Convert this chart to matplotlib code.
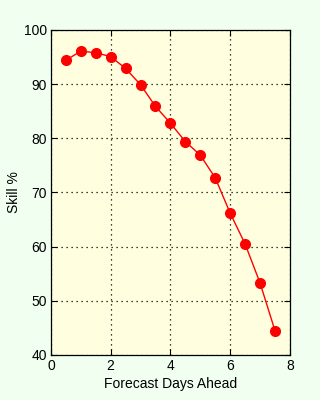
import matplotlib
matplotlib.use("Agg")
import matplotlib.pyplot as plt

plt.rcParams['font.family'] = ['Liberation Sans', 'DejaVu Sans']

days = [0.5, 1.0, 1.5, 2.0, 2.5, 3.0, 3.5, 4.0, 4.5, 5.0, 5.5, 6.0, 6.5, 7.0, 7.5]
skill = [94.4, 96.1, 95.8, 95.1, 92.9, 89.9, 85.9, 82.8, 79.4, 76.9, 72.7, 66.2, 60.5, 53.3, 44.5]
xticks = [0, 2, 4, 6, 8]
yticks = [40, 50, 60, 70, 80, 90, 100]

fig = plt.figure(figsize=(3.2, 4.0), dpi=100, facecolor="#f0fff0")
ax = fig.add_axes([0.159, 0.1125, 0.747, 0.8125])
ax.set_facecolor("#ffffe0")
ax.plot(days, skill, color="red", lw=1, marker="o", ms=7, mfc="red", mec="red")
ax.set_xlim(0, 8)
ax.set_ylim(40, 100)
ax.set_xticks(xticks)
ax.set_yticks(yticks)
ax.grid(True, color="black", linestyle=(0, (1, 3)), lw=0.9)
ax.tick_params(direction="in", top=True, right=True, length=4, labelsize=10, pad=3)
ax.set_xlabel("Forecast Days Ahead", fontsize=10, labelpad=3)
ax.set_ylabel("Skill %", fontsize=10, labelpad=2)
for s in ax.spines.values():
    s.set_linewidth(0.9)
fig.savefig("out.png", dpi=100, facecolor=fig.get_facecolor())
